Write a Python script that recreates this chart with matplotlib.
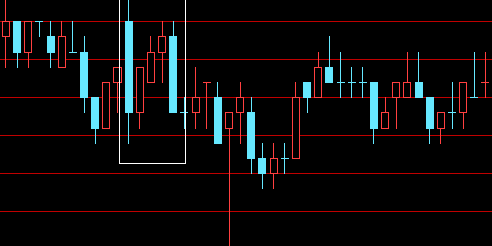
import matplotlib
matplotlib.use("Agg")
import matplotlib.pyplot as plt
from matplotlib.patches import Rectangle

opens  = [98,100,96,100,98,94,96,96,90,86,92,100,88,92,96,98,88,88,92,90,86,88,88,82,80,82,82,92,90,94,92,92,92,92,86,90,90,92,90,86,88,88,90,92]
highs  = [104,100,100,100,100,100,100,98,90,92,94,104,94,98,100,100,90,94,92,92,88,92,90,84,84,84,92,92,96,98,96,94,94,92,90,92,96,96,90,88,92,92,96,96]
lows   = [94,94,94,98,94,94,96,88,84,86,88,84,86,92,92,88,86,86,86,84,68,84,80,78,78,80,82,88,90,92,90,90,90,84,86,86,90,90,84,84,86,86,90,90]
closes = [100,96,100,100,96,98,96,90,86,92,94,88,94,96,98,88,88,90,92,84,88,90,82,80,82,82,90,90,94,92,92,92,92,86,88,92,92,90,86,88,88,92,90,92]
# candle direction (True = rising / red hollow, False = falling / cyan filled)
rising = [True,False,True,False,False,True,False,False,False,True,True,False,True,True,True,False,False,True,True,False,True,True,False,False,True,False,True,False,True,False,False,False,False,False,True,True,True,False,False,True,False,True,False,True]
grid_levels = [100, 95, 90, 85, 80, 75]
box_x = (10.2, 16.13)
box_y = (81.3, 110)

UP = '#ff4040'
DOWN = '#66e8ff'
GRID = '#c00000'
LW = 0.72
W = 0.63

fig = plt.figure(figsize=(4.92, 2.46), dpi=100, facecolor='black')
ax = fig.add_axes([0, 0, 1, 1])
ax.set_facecolor('black')
ax.set_xlim(-0.493, 43.63)
ax.set_ylim(70.43, 102.8)
ax.axis('off')

for g in grid_levels:
    ax.axhline(g, color=GRID, lw=LW, linestyle=(0, (1, 1)), zorder=1, antialiased=False)

for i, (o, h, l, c, r) in enumerate(zip(opens, highs, lows, closes, rising)):
    col = UP if r else DOWN
    top, bot = max(o, c), min(o, c)
    ax.vlines(i, top, h, color=col, lw=LW, zorder=2, antialiased=False)
    ax.vlines(i, l, bot, color=col, lw=LW, zorder=2, antialiased=False)
    if top == bot:
        ax.hlines(top, i - W / 2, i + W / 2, color=col, lw=LW, zorder=3, antialiased=False)
    elif r:
        ax.add_patch(Rectangle((i - W / 2, bot), W, top - bot, facecolor='black',
                               edgecolor=col, lw=LW, zorder=3, antialiased=False))
    else:
        ax.add_patch(Rectangle((i - W / 2, bot), W, top - bot, facecolor=col,
                               edgecolor=col, lw=LW, zorder=3, antialiased=False))

ax.add_patch(Rectangle((box_x[0], box_y[0]), box_x[1] - box_x[0], box_y[1] - box_y[0],
                       facecolor='none', edgecolor='white', lw=LW, zorder=4,
                       antialiased=False))

fig.savefig('out.png', dpi=100, facecolor='black')
